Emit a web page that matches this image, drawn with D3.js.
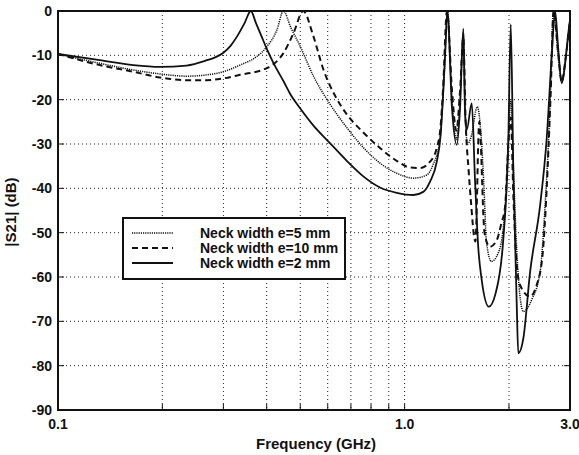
<!DOCTYPE html>
<html>
<head>
<meta charset="utf-8">
<script src="https://cdn.jsdelivr.net/npm/d3@7"></script>
<style>
  body { margin: 0; background: #fff; }
  text { font-family: "Liberation Sans", Arial, sans-serif; font-weight: bold; fill: #111; }
</style>
</head>
<body>
<script>
// frequency (GHz), |S21| (dB)
const neck2 = [
  [0.1,-9.7],[0.132,-11.1],[0.165,-12.2],[0.197,-12.6],[0.235,-12.3],[0.269,-11.1],
  [0.285,-10.4],[0.3,-9.4],[0.315,-7.8],[0.33,-5.5],[0.345,-2.8],[0.36,0],
  [0.372,-2.6],[0.386,-5.6],[0.4,-8.5],[0.42,-12],[0.447,-15.8],[0.47,-19],
  [0.5,-22],[0.545,-25.8],[0.609,-29.8],[0.681,-33.8],[0.76,-37.3],[0.849,-39.8],
  [0.949,-41],[1.06,-41.5],[1.132,-40.8],[1.184,-38.5],[1.238,-34],[1.27,-28],
  [1.293,-18],[1.312,-8],[1.328,0],
  [1.37,-22],[1.414,-30.2],[1.445,-22],[1.477,-4],[1.494,-23],[1.511,-26.8],
  [1.562,-20.8],[1.596,-38],[1.63,-53],[1.669,-60.7],[1.75,-66.7],[1.83,-63.7],
  [1.927,-51.3],[1.992,-28.7],[2.024,-3],[2.059,-36.2],[2.106,-66.3],[2.128,-77.2],
  [2.201,-73.8],[2.302,-58.8],[2.46,-43.8],[2.57,-28.7],[2.658,-9.9],[2.717,0],
  [2.771,-8],[2.84,-16.3],[2.903,-12],[2.967,-5],[3.0,-2]
];
const neck5 = [
  [0.1,-9.7],[0.132,-11.8],[0.165,-13.3],[0.197,-14.2],[0.235,-14.7],[0.269,-14.4],
  [0.3,-13.7],[0.335,-12.2],[0.374,-10.3],[0.4,-8.1],[0.428,-4.3],[0.447,0],
  [0.47,-3.8],[0.5,-8],[0.545,-14.6],[0.609,-21],[0.681,-26.3],[0.76,-30.8],
  [0.849,-34.3],[0.949,-36.6],[1.06,-37.7],[1.158,-37],[1.208,-34.7],[1.265,-29],
  [1.3,-15],[1.33,0],[1.37,-20],[1.41,-29],[1.445,-20],[1.477,-5],[1.494,-22],
  [1.52,-30],[1.56,-28],[1.62,-21.6],[1.67,-30.6],[1.69,-38],[1.706,-45.6],
  [1.72,-51.7],[1.78,-56.5],[1.86,-54.7],[1.927,-48.7],[1.95,-44],[1.992,-30],
  [2.024,-20],[2.07,-40],[2.12,-58],[2.2,-67.8],[2.33,-65],[2.46,-58.8],
  [2.543,-43.8],[2.628,-21.2],[2.687,0],[2.771,-10],[2.84,-16],[2.92,-10],[3.0,-2]
];
const neck10 = [
  [0.1,-9.7],[0.132,-12.2],[0.165,-13.7],[0.197,-15],[0.235,-15.6],[0.269,-15.6],
  [0.3,-15.2],[0.335,-14.4],[0.4,-12.9],[0.447,-9.5],[0.478,-5],[0.51,0],
  [0.545,-5.6],[0.583,-13.2],[0.637,-19.8],[0.681,-23.3],[0.76,-27.4],[0.849,-30.9],
  [0.949,-33.8],[1.037,-35.3],[1.108,-35.4],[1.184,-34],[1.238,-30.9],[1.27,-26],
  [1.29,-18],[1.325,0],[1.37,-18],[1.41,-27],[1.445,-18],[1.477,-6],[1.5,-25],
  [1.53,-36],[1.55,-42],[1.6,-52],[1.642,-25],[1.7,-50],[1.76,-53.2],[1.844,-51.7],
  [1.9,-48],[1.95,-44],[1.992,-30],[2.024,-24],[2.06,-42],[2.11,-58],[2.153,-61.8],
  [2.3,-64.4],[2.4,-62],[2.5,-55],[2.57,-40],[2.64,-18],[2.69,0],[2.771,-9],
  [2.84,-16],[2.92,-10],[3.0,-2]
];

const xGrid = [0.2,0.3,0.4,0.5,0.6,0.7,0.8,0.9,1,2];
const xLabels = [[0.1,"0.1"],[1,"1.0"],[3,"3.0"]];
const yTicks = [-90,-80,-70,-60,-50,-40,-30,-20,-10,0];
const legendNames = ["Neck width e=5 mm","Neck width e=10 mm","Neck width e=2 mm"];

const width = 579, height = 455;
const svg = d3.select("body").append("svg")
    .attr("width", width).attr("height", height);

const x = d3.scaleLog().domain([0.1, 3]).range([58, 570]);
const y = d3.scaleLinear().domain([-90, 0]).range([410, 11]);

svg.append("clipPath").attr("id", "clip")
  .append("rect").attr("x", 58).attr("y", 10).attr("width", 512).attr("height", 401);

// dotted grid
svg.append("g").selectAll("line").data(xGrid).join("line")
    .attr("x1", d => x(d)).attr("x2", d => x(d))
    .attr("y1", 11).attr("y2", 410)
    .attr("stroke", "#222").attr("stroke-width", 1)
    .attr("stroke-dasharray", "1,3");
svg.append("g").selectAll("line").data(yTicks.slice(1, -1)).join("line")
    .attr("x1", 58).attr("x2", 570)
    .attr("y1", d => y(d)).attr("y2", d => y(d))
    .attr("stroke", "#222").attr("stroke-width", 1)
    .attr("stroke-dasharray", "1,3");

// inner ticks
svg.append("g").selectAll("line").data(yTicks).join("line")
    .attr("x1", 564).attr("x2", 570)
    .attr("y1", d => y(d)).attr("y2", d => y(d))
    .attr("stroke", "#111");
svg.append("g").selectAll("line").data(yTicks).join("line")
    .attr("x1", 58).attr("x2", 64)
    .attr("y1", d => y(d)).attr("y2", d => y(d))
    .attr("stroke", "#111");
svg.append("g").selectAll("line").data(xGrid).join("line")
    .attr("x1", d => x(d)).attr("x2", d => x(d))
    .attr("y1", 404).attr("y2", 410)
    .attr("stroke", "#111");

// curves
const line = d3.line()
    .x(d => x(d[0]))
    .y(d => y(d[1]))
    .curve(d3.curveMonotoneX);

const series = [
  {data: neck5, width: 1.5, dash: "1.2,1"},
  {data: neck10, width: 2, dash: "6,4"},
  {data: neck2, width: 1.8, dash: null}
];

svg.append("g").attr("clip-path", "url(#clip)")
  .selectAll("path").data(series).join("path")
    .attr("d", d => line(d.data))
    .attr("fill", "none")
    .attr("stroke", "#111")
    .attr("stroke-width", d => d.width)
    .attr("stroke-dasharray", d => d.dash);

// frame
svg.append("rect")
    .attr("x", 58).attr("y", 11).attr("width", 512).attr("height", 399)
    .attr("fill", "none").attr("stroke", "#111").attr("stroke-width", 2);

// tick labels
svg.append("g").selectAll("text").data(yTicks).join("text")
    .attr("x", 52).attr("y", d => y(d) + 5)
    .attr("text-anchor", "end")
    .attr("font-size", 14)
    .text(d => d);
svg.append("g").selectAll("text").data(xLabels).join("text")
    .attr("x", d => x(d[0])).attr("y", 429)
    .attr("text-anchor", "middle")
    .attr("font-size", 14)
    .text(d => d[1]);

// axis titles
svg.append("text")
    .attr("x", 316).attr("y", 449)
    .attr("text-anchor", "middle")
    .attr("font-size", 15)
    .text("Frequency (GHz)");
svg.append("text")
    .attr("transform", "translate(16,212) rotate(-90)")
    .attr("text-anchor", "middle")
    .attr("font-size", 15)
    .text("|S21| (dB)");

// legend
const legend = svg.append("g");
legend.append("rect")
    .attr("x", 123).attr("y", 218).attr("width", 222).attr("height", 61)
    .attr("fill", "#fff").attr("stroke", "#111").attr("stroke-width", 2);
const rows = legend.selectAll("g").data(series).join("g")
    .attr("transform", (d, i) => `translate(0,${233 + i * 15})`);
rows.append("line")
    .attr("x1", 132).attr("x2", 173)
    .attr("stroke", "#111")
    .attr("stroke-width", d => d.width)
    .attr("stroke-dasharray", d => d.dash);
rows.append("text")
    .attr("x", 200).attr("y", 5)
    .attr("font-size", 14)
    .text((d, i) => legendNames[i]);
</script>
</body>
</html>
